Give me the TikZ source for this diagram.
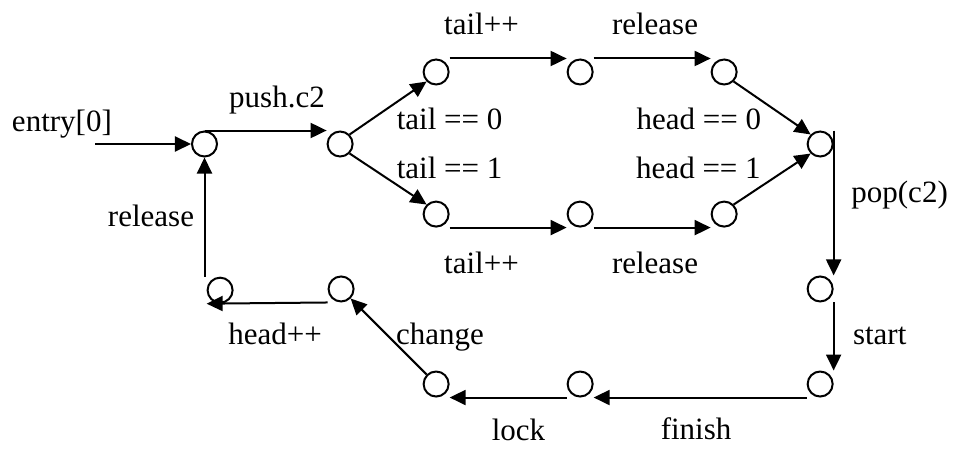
\documentclass[tikz,border=0pt]{standalone}
\usepackage{fontspec}
\setmainfont{Liberation Serif}
\usetikzlibrary{arrows.meta}

\begin{document}
\begin{tikzpicture}[x=12pt, y=12pt, line width=1pt,
  every node/.style={font=\fontsize{15.5}{18}\selectfont},
  state/.style={circle, draw, minimum size=12.5pt, inner sep=0pt},
  act/.style={-{Triangle[length=8pt, width=7.5pt]}}]
\useasboundingbox (0,0) rectangle (39.83,18.67);
% states: main line, the two tail branches, the way back
\node[state] (s0) at (8.52,12.67) {};
\node[state] (s1) at (14.17,12.67) {};
\node[state] (t0) at (18.17,15.67) {};
\node[state] (t1) at (24.17,15.67) {};
\node[state] (t2) at (30.17,15.67) {};
\node[state] (b0) at (18.17,9.75) {};
\node[state] (b1) at (24.17,9.75) {};
\node[state] (b2) at (30.17,9.75) {};
\node[state] (s2) at (34.17,12.67) {};
\node[state] (s3) at (34.17,6.63) {};
\node[state] (s4) at (34.17,2.67) {};
\node[state] (s5) at (24.17,2.67) {};
\node[state] (s6) at (18.17,2.67) {};
\node[state] (s7) at (14.21,6.63) {};
\node[state] (s8) at (9.17,6.58) {};
\coordinate (in) at (3.96,12.67);
% transitions
\draw[act] (in) -- (s0);
\draw[act] (s0.north) -- (s1.north -| s1.west);
\draw[act] (s1.north east) -- (t0.south west);
\draw[act] (s1.south east) -- (b0.north west);
\draw[act] (t0.north -| t0.east) -- (t1.north -| t1.west);
\draw[act] (t1.north -| t1.east) -- (t2.north -| t2.west);
\draw[act] (t2.south east) -- (s2.north west);
\draw[act] (b0.south -| b0.east) -- (b1.south -| b1.west);
\draw[act] (b1.south -| b1.east) -- (b2.south -| b2.west);
\draw[act] (b2.north east) -- (s2.south west);
\draw[act] (s2.north -| s2.east) -- (s3.north -| s3.east);
\draw[act] (s3.south -| s3.east) -- (s4.north -| s4.east);
\draw[act] (s4.south -| s4.west) -- (s5.south -| s5.east);
\draw[act] (s5.south -| s5.west) -- (s6.south -| s6.east);
\draw[act] (s6.north west) -- (s7.south east);
\draw[act] (s7.south -| s7.west) -- (s8.south -| s8.west);
\draw[act] (s8.north -| s0.south) -- (s0.south);
% labels
\node (lEntry) at (2.58,13.5) {entry[0]};
\node (lPush) at (11.54,14.5) {push.c2};
\node (lTail0) at (18.73,13.71) {tail == 0};
\node (lTail1) at (18.73,11.67) {tail == 1};
\node (lTailIncA) at (20.06,17.67) {tail++};
\node (lRelA) at (27.29,17.67) {release};
\node (lHead0) at (29.12,13.71) {head == 0};
\node (lHead1) at (29.1,11.67) {head == 1};
\node (lTailIncB) at (20.06,7.71) {tail++};
\node (lRelB) at (27.29,7.71) {release};
\node (lPop) at (37.48,10.54) {pop(c2)};
\node (lStart) at (36.65,4.67) {start};
\node (lFinish) at (29.0,0.79) {finish};
\node (lLock) at (21.6,0.75) {lock};
\node (lChange) at (18.33,4.62) {change};
\node (lHeadInc) at (11.46,4.75) {head++};
\node (lRelC) at (6.29,9.67) {release};
\end{tikzpicture}
\end{document}
